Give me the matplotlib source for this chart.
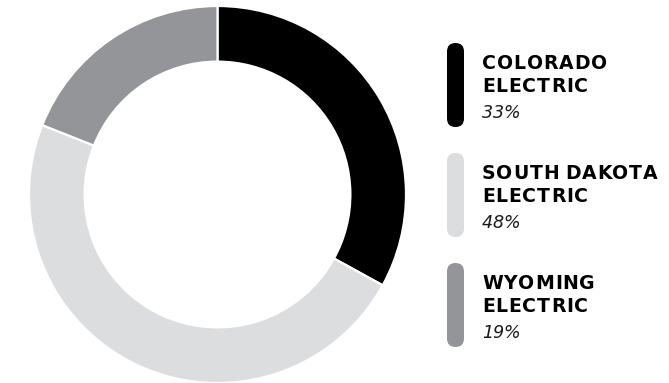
import matplotlib
matplotlib.use("Agg")
import matplotlib.pyplot as plt
from matplotlib.patches import FancyBboxPatch
from matplotlib.transforms import IdentityTransform
from matplotlib.font_manager import FontProperties

names = ["COLORADO\nELECTRIC", "SOUTH DAKOTA\nELECTRIC", "WYOMING\nELECTRIC"]
values = [33, 48, 19]
pct_labels = ["33%", "48%", "19%"]
colors = ["#000000", "#dcdddf", "#939598"]

W, H = 669, 383
fig = plt.figure(figsize=(W / 100, H / 100), dpi=100)
fig.patch.set_facecolor("white")

# donut
cx, cy, R = 217.5, 188.5, 188.5
ax = fig.add_axes([(cx - R) / W, (cy - R) / H, 2 * R / W, 2 * R / H])
wedges, _ = ax.pie(values, colors=colors, startangle=90, counterclock=False,
                   radius=1.0, wedgeprops=dict(width=0.295, edgecolor="white", linewidth=1.6))
for w in wedges:
    w.set_clip_on(False)
ax.set_xlim(-1, 1)
ax.set_ylim(-1, 1)
ax.set_aspect("equal")
ax.axis("off")

renderer = fig.canvas.get_renderer()
ident = IdentityTransform()

bold = FontProperties(family="DejaVu Sans", weight="bold", size=13.6)
ital = FontProperties(family="DejaVu Sans", style="oblique", weight="normal", size=12.6)


def char_w(ch, fp):
    if ch == " ":
        w, _, _ = renderer.get_text_width_height_descent("n", fp, ismath=False)
        return w * 0.3
    w, _, _ = renderer.get_text_width_height_descent(ch, fp, ismath=False)
    return w


def tracking_for(s, fp, target):
    tot = sum(char_w(c, fp) for c in s)
    return (target - tot) / (len(s) - 1)


def tracked(x, y_top_px, s, fp, track, color="#000000"):
    yb = H - y_top_px
    for ch in s:
        if ch != " ":
            fig.text(x, yb, ch, fontproperties=fp, color=color, transform=ident,
                     va="baseline", ha="left")
        x += char_w(ch, fp) + track


trk_b = tracking_for("COLORADO", bold, 125)
trk_i = tracking_for("33%", ital, 38)

step = 110
for i, (nm, pc, col) in enumerate(zip(names, pct_labels, colors)):
    top = 43 + i * step
    bar = FancyBboxPatch((447, H - (top + 84)), 17, 84,
                         boxstyle="round,pad=0,rounding_size=8.5",
                         facecolor=col, edgecolor="none", transform=ident)
    fig.patches.append(bar)
    l1, l2 = nm.split("\n")
    tracked(482, 69 + i * step, l1, bold, trk_b)
    tracked(482, 92 + i * step, l2, bold, trk_b)
    tracked(482, 118 + i * step, pc, ital, trk_i, color="#1a1a1a")

fig.savefig("out.png", dpi=100, facecolor="white")
